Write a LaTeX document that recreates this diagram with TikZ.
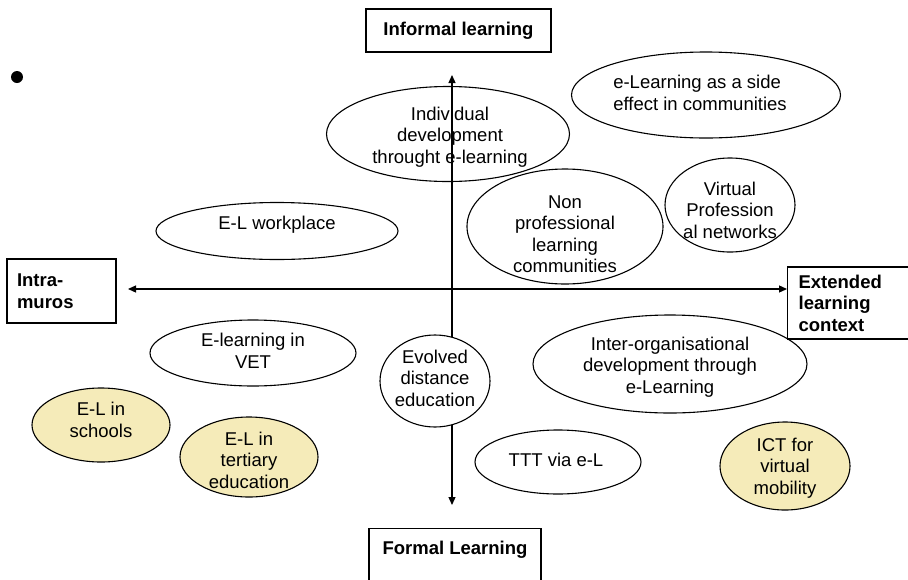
\documentclass[tikz,border=0pt]{standalone}
\usepackage{fontspec}
\setmainfont{Liberation Sans}
\usetikzlibrary{shapes.geometric,arrows.meta}
\definecolor{beigefill}{RGB}{245,235,185}
\begin{document}
\begin{tikzpicture}[x=1pt,y=-1pt,
  oval/.style={ellipse, draw=black, line width=1.1pt, inner sep=0pt},
  warm/.style={oval, fill=beigefill},
  txt/.style={align=center, inner sep=0pt, font=\fontsize{18.5}{21.5}\selectfont},
  axisbox/.style={draw=black, line width=1.2pt, inner sep=0pt, font=\fontsize{18.5}{21.5}\selectfont\bfseries},
  axisline/.style={line width=1.3pt, {Triangle[length=8pt,width=7pt]}-{Triangle[length=8pt,width=7pt]}}]
\useasboundingbox (0,0) rectangle (908,579);

% axis boxes
\node[axisbox, minimum width=185pt, minimum height=43pt] (top) at (458.5,30.5) {Informal learning};
\node[axisbox, align=left, text width=89pt, inner xsep=10pt, minimum height=64pt] (left) at (61.5,291) {Intra-\\muros};
\node[axisbox, align=left, text width=116pt, inner xsep=11pt, minimum height=72pt, anchor=west] (right) at (787,303) {Extended\\learning\\context};
\node[axisbox, minimum width=172pt, inner ysep=12pt, text depth=50pt, anchor=north] (bottom) at (455,528) {Formal Learning};

% bullet
\node[circle, fill=black, inner sep=0pt, minimum size=12pt] (dot) at (17,77) {};

% ellipses
\node[oval, minimum width=243pt, minimum height=95pt] (e1) at (448,134) {};
\node[oval, minimum width=269pt, minimum height=86pt] (e2) at (706,95) {};
\node[oval, minimum width=242pt, minimum height=57pt] (e3) at (277,231) {};
\node[oval, minimum width=196pt, minimum height=115pt] (e4) at (565,226.5) {};
\node[oval, minimum width=130pt, minimum height=94pt] (e5) at (730,205) {};
\node[oval, minimum width=274pt, minimum height=98pt] (e6) at (670,364) {};
\node[oval, minimum width=206pt, minimum height=66pt] (e7) at (253,353) {};
\node[warm, minimum width=138pt, minimum height=74pt] (e9) at (101,425) {};
\node[warm, minimum width=138pt, minimum height=80pt] (e10) at (249,457) {};
\node[oval, minimum width=166pt, minimum height=64pt] (e11) at (558,462) {};
\node[warm, minimum width=130pt, minimum height=88pt] (e12) at (785,466) {};

% axes
\coordinate (hL) at (128,289);
\coordinate (hR) at (787,289);
\coordinate (vT) at (452,75);
\coordinate (vB) at (452,505);
\draw[axisline] (hL) -- (hR);
\draw[axisline] (vB) -- (vT);

\node[oval, fill=white, minimum width=110pt, minimum height=92pt] (e8) at (435,381) {};

% texts
\node[txt] (t1) at (450,137) {Individual\\development\\throught e-learning};
\node[txt, align=left] (t2) at (700,93) {e-Learning as a side\\effect in communities};
\node[txt] (t3) at (277,225) {E-L workplace};
\node[txt] (t4) at (565,234) {Non\\professional\\learning\\communities};
\node[txt] (t5) at (730,210) {Virtual\\Profession\\al networks};
\node[txt] (t6) at (670,367) {Inter-organisational\\development through\\e-Learning};
\node[txt] (t7) at (253,351) {E-learning in\\VET};
\node[txt] (t8) at (435,378) {Evolved\\distance\\education};
\node[txt] (t9) at (101,420) {E-L in\\schools};
\node[txt] (t10) at (249,460) {E-L in\\tertiary\\education};
\node[txt] (t11) at (556,460) {TTT via e-L};
\node[txt] (t12) at (785,468) {ICT for\\virtual\\mobility};
\end{tikzpicture}
\end{document}
